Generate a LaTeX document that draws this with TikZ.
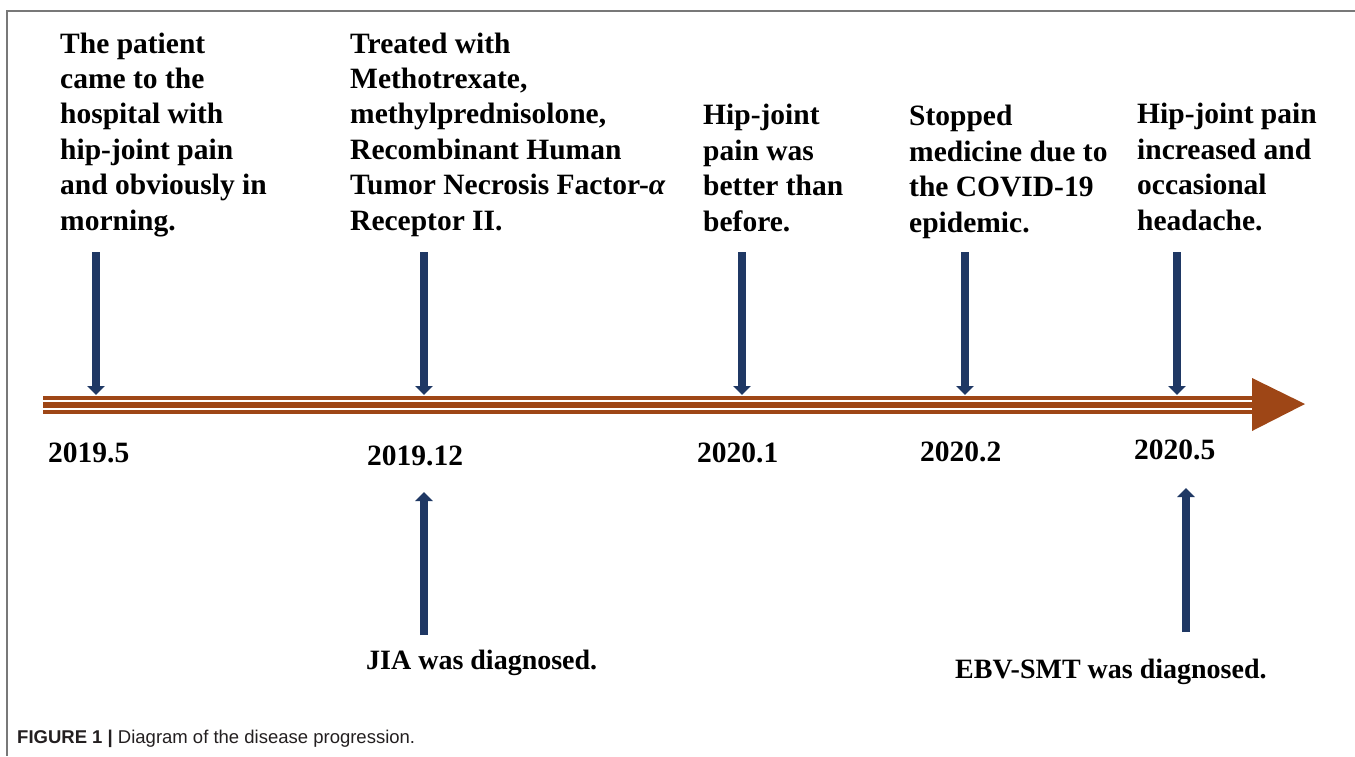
\documentclass[tikz,border=0pt]{standalone}
\usepackage{fontspec}
\setmainfont{Liberation Serif}
\newfontfamily\capfont{Liberation Sans}
\usetikzlibrary{arrows.meta}
\definecolor{navy}{RGB}{31,56,100}
\definecolor{tlbrown}{RGB}{158,70,22}
\definecolor{framegray}{RGB}{120,120,120}
\definecolor{captext}{RGB}{35,31,32}
\newcommand\evfont{\fontsize{29.5}{35.4}\selectfont\bfseries}
\newcommand\botfont{\fontsize{28}{33}\selectfont\bfseries}
\newcommand\evlines[1]{\begin{tabular}[b]{@{}l@{}}#1\end{tabular}}
\tikzset{
  evtext/.style={anchor=base west, inner sep=0pt, font=\evfont},
  datetext/.style={anchor=base west, inner sep=0pt, font=\evfont},
  bottext/.style={anchor=base west, inner sep=0pt, font=\botfont},
  navyarrow/.style={draw=navy, line width=8pt, -{Triangle[width=17pt,length=9pt]}},
}
\begin{document}
\begin{tikzpicture}[x=1pt,y=-1pt]
\useasboundingbox (0,0) rectangle (1355,756);
\fill[white] (0,0) rectangle (1355,756);
% frame
\draw[framegray, line width=1.8pt] (1355,11) -- (7,11) -- (7,756);
% timeline
\fill[tlbrown] (43,396) rectangle (1253,413.5);
\fill[white] (43,399.6) rectangle (1253,401.9);
\fill[white] (43,407.6) rectangle (1253,409.9);
\fill[tlbrown] (1252,378) -- (1305,404) -- (1252,431) -- cycle;
% event texts
\node[evtext] (t1) at (60,230) {\evlines{The patient\\came to the\\hospital with\\hip-joint pain\\and obviously in\\morning.}};
\node[evtext] (t2) at (350,230) {\evlines{Treated with\\Methotrexate,\\methylprednisolone,\\Recombinant Human\\Tumor Necrosis Factor-{\itshape α}\\Receptor II.}};
\node[evtext] (t3) at (703,231) {\evlines{Hip-joint\\pain was\\better than\\before.}};
\node[evtext] (t4) at (909,232) {\evlines{Stopped\\medicine due to\\the COVID-19\\epidemic.}};
\node[evtext] (t5) at (1137,230) {\evlines{Hip-joint pain\\increased and\\occasional\\headache.}};
% down arrows
\foreach \i/\x in {1/96,2/424,3/742,4/965,5/1177}{
  \coordinate (d\i s) at (\x,252);
  \coordinate (d\i e) at (\x,395);
  \draw[navyarrow] (d\i s) -- (d\i e);
}
% dates
\node[datetext] (y1) at (48,462) {2019.5};
\node[datetext] (y2) at (367,465) {2019.12};
\node[datetext] (y3) at (697,462) {2020.1};
\node[datetext] (y4) at (920,461) {2020.2};
\node[datetext] (y5) at (1134,459) {2020.5};
% up arrows
\coordinate (u1s) at (424,635);
\coordinate (u1e) at (424,492);
\coordinate (u2s) at (1186,632);
\coordinate (u2e) at (1186,488);
\draw[navyarrow] (u1s) -- (u1e);
\draw[navyarrow] (u2s) -- (u2e);
% bottom texts
\node[bottext] (b1) at (366,669) {JIA was diagnosed.};
\node[bottext] (b2) at (955,678) {EBV-SMT was diagnosed.};
% caption
\node[anchor=base west, inner sep=0pt, font=\capfont\fontsize{18.5}{22}\selectfont, text=captext] (cap) at (17,743) {\textbf{FIGURE 1 |} Diagram of the disease progression.};
\end{tikzpicture}
\end{document}
